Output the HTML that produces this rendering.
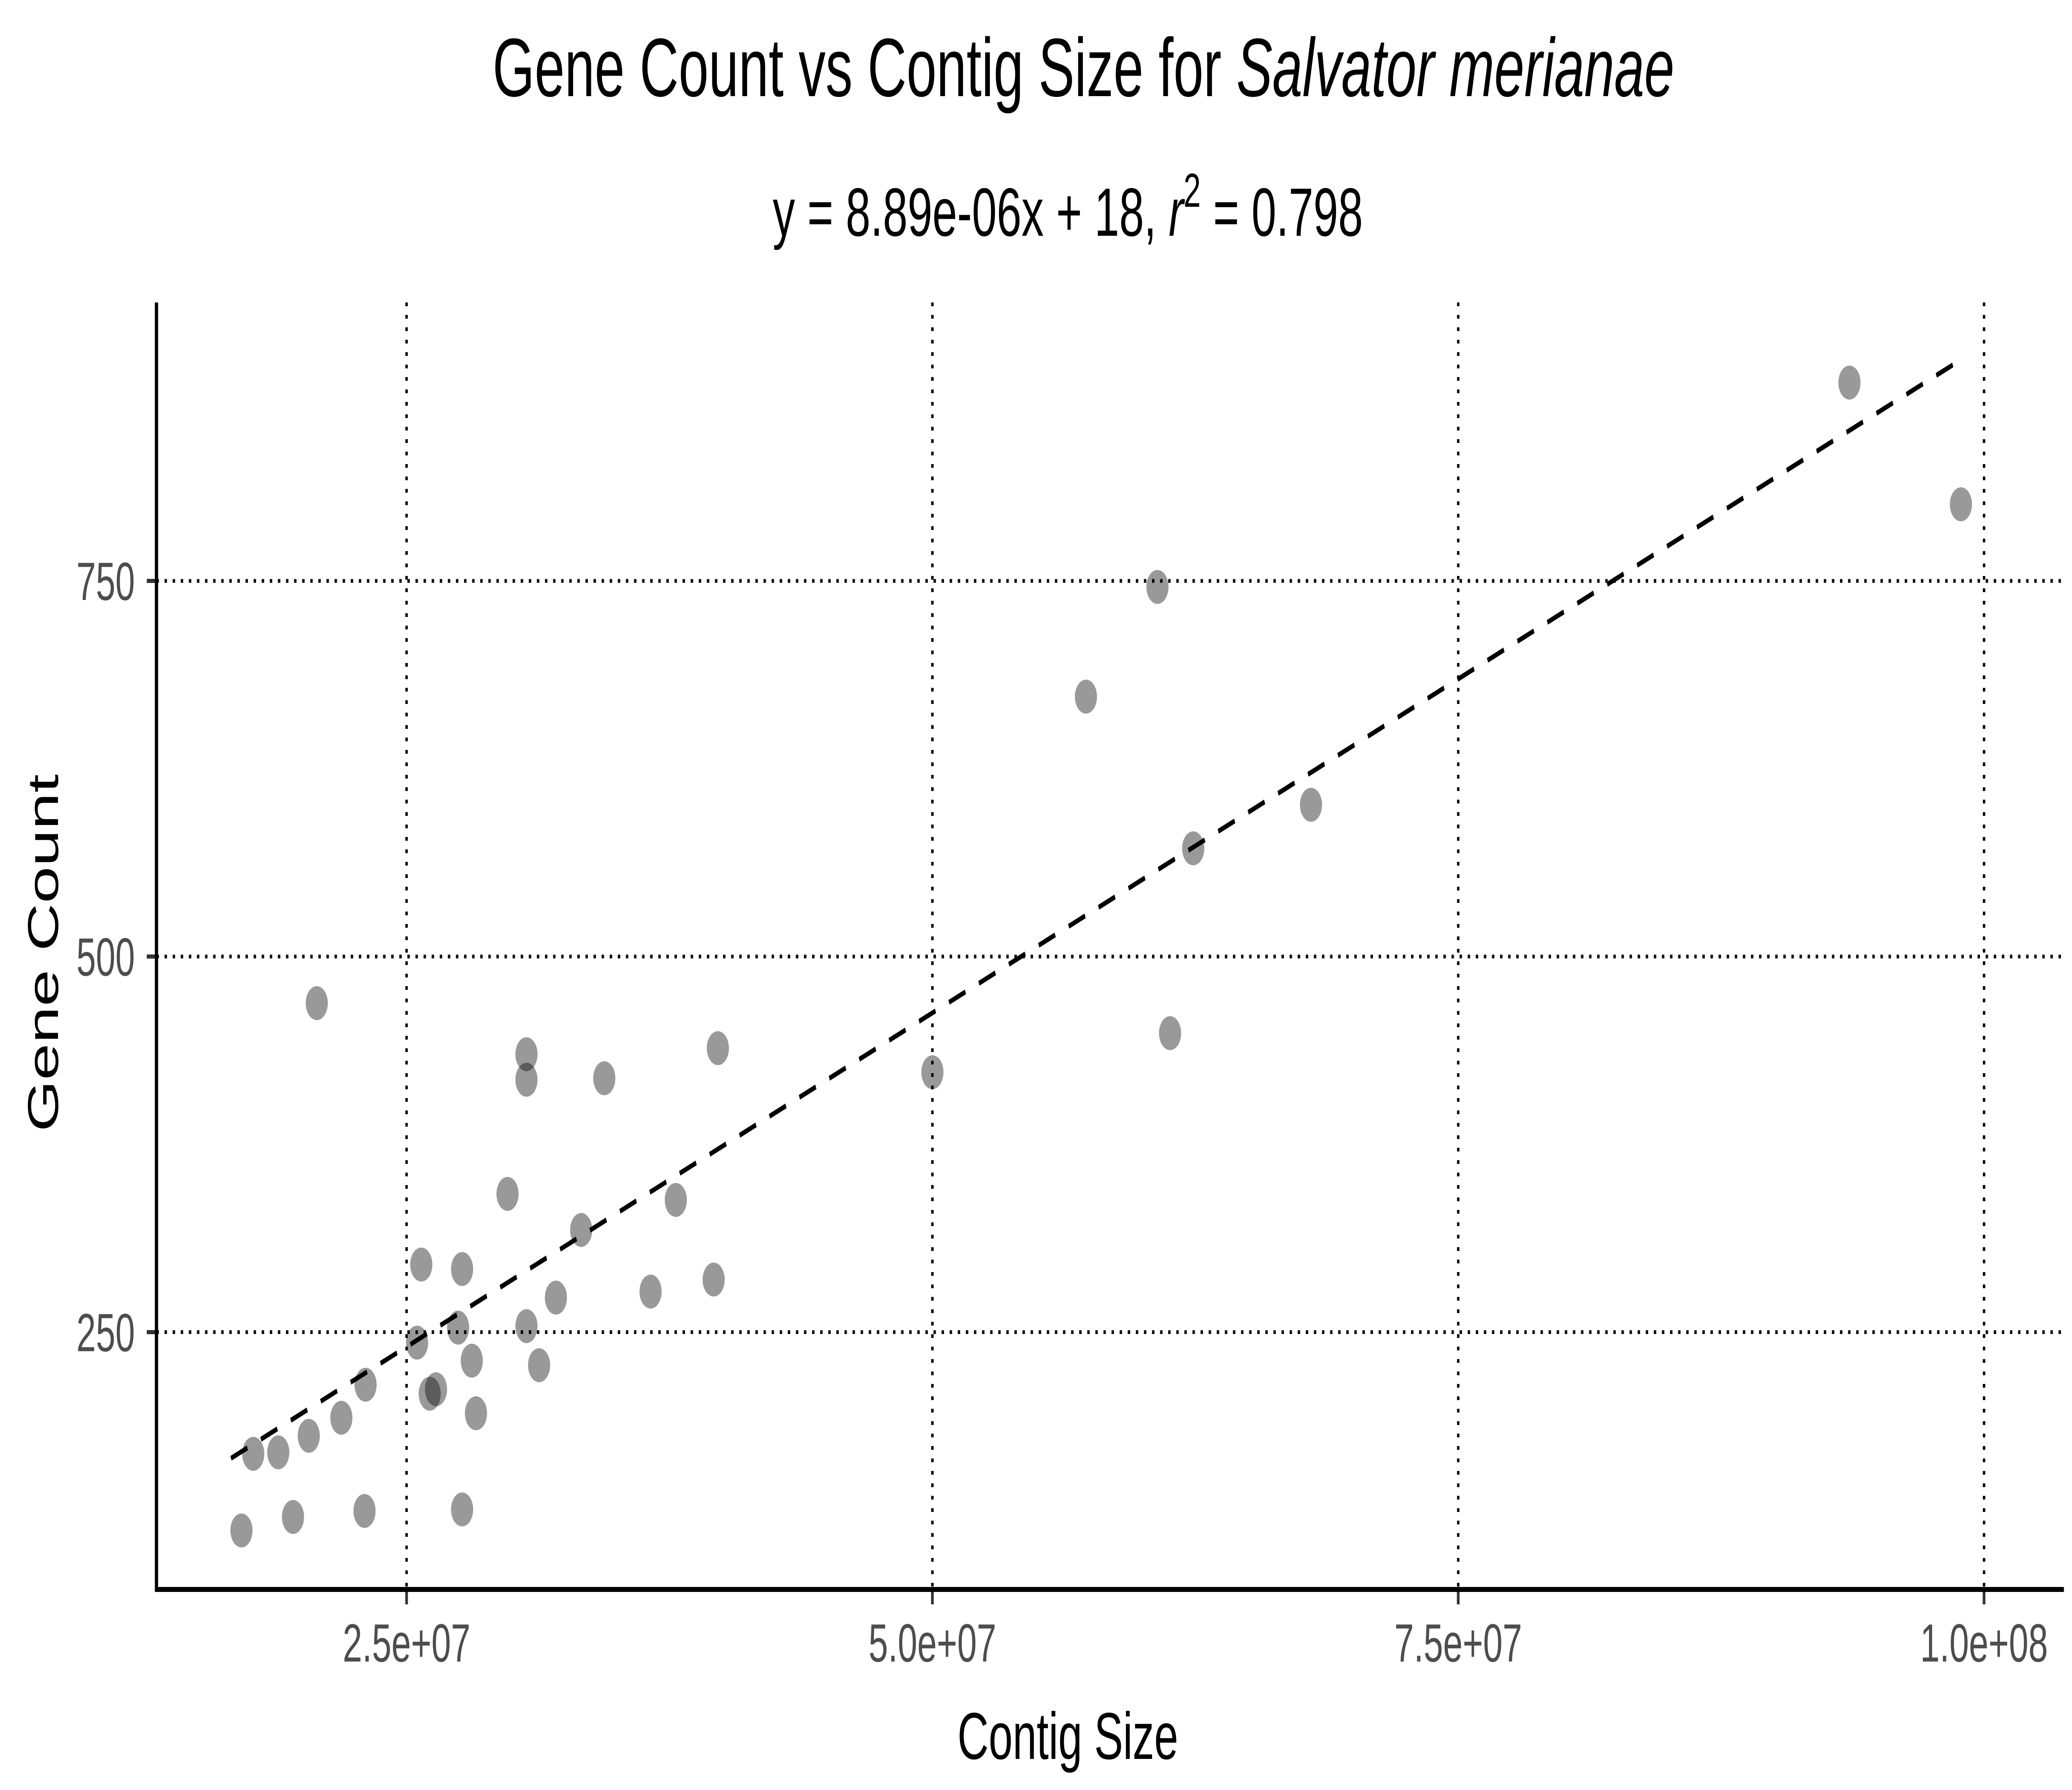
<!DOCTYPE html>
<html><head><meta charset="utf-8"><style>
html,body{margin:0;padding:0;background:#fff;width:100%;height:100%;overflow:hidden}
svg{display:block;width:100vw;height:100vh}
text{font-family:"Liberation Sans",Arial,sans-serif}
</style></head><body>
<svg id="chart" viewBox="0 0 7680 4320" preserveAspectRatio="none" xmlns="http://www.w3.org/2000/svg">
<rect width="7680" height="4320" fill="#fff"/>
<text x="4016" y="232" font-size="200" text-anchor="middle">Gene Count vs Contig Size for <tspan font-style="italic">Salvator merianae</tspan></text>
<text x="3958" y="569" font-size="165" text-anchor="middle">y = 8.89e-06x + 18,  <tspan font-style="italic">r</tspan><tspan dy="-70" font-size="115">2</tspan><tspan dy="70"> = 0.798</tspan></text>
<g id="grid"></g>
<g id="axes"></g>
<g id="points"></g>
<g id="fit"></g>
<text x="3958" y="4245" font-size="160" text-anchor="middle">Contig Size</text>
<text transform="translate(215,2300) rotate(-90)" font-size="160" text-anchor="middle">Gene Count</text>
</svg>
<script>
const xValues = [1.715e7,1.771e7,1.89e7,1.96e7,2.035e7,2.073e7,2.19e7,2.305e7,2.30e7,2.55e7,2.57e7,2.61e7,2.64e7,2.745e7,2.764e7,2.764e7,2.81e7,2.83e7,2.98e7,3.07e7,3.07e7,3.07e7,3.13e7,3.21e7,3.33e7,3.44e7,3.66e7,3.78e7,3.96e7,3.98e7,5.0e7,5.73e7,6.07e7,6.13e7,6.24e7,6.8e7,9.36e7,9.89e7];
const yValues = [118,169,170,127,181,469,193,215,131,243,295,209,212,253,292,132,231,196,342,435,418,254,228,273,318,419,277,338,285,439,423,673,746,449,572,601,882,801];
const xTicks = [2.5e7,5e7,7.5e7,1e8];
const xTickLabels = ["2.5e+07","5.0e+07","7.5e+07","1.0e+08"];
const yTicks = [250,500,750];
const yTickLabels = ["250","500","750"];
const slope = 8.89e-6, intercept = 18;
const fitRange = [1.665e7, 9.9e7];

const NS="http://www.w3.org/2000/svg";
const sx = v => 1507 + (v-2.5e7)/2.5e7*1949;
const sy = v => 4121.5 - v*3.626;
const L=580, R=7650, T=730, B=3836;
function mk(tag,attrs,parent){const e=document.createElementNS(NS,tag);for(const k in attrs)e.setAttribute(k,attrs[k]);parent.appendChild(e);return e;}
const grid=document.getElementById('grid'), axes=document.getElementById('axes'), pts=document.getElementById('points'), fit=document.getElementById('fit');
xTicks.forEach((t,i)=>{
  const x=sx(t);
  const g=mk('line',{x1:x,x2:x,y1:T,y2:B,stroke:'#000','stroke-width':9,'stroke-dasharray':'9 21'},grid);
  
  
  const tk=mk('line',{x1:x,x2:x,y1:B,y2:B+36,stroke:'#333','stroke-width':10},axes);
  
  
  const lb=mk('text',{x:x,y:4010,'font-size':130,'text-anchor':'middle',fill:'#4d4d4d'},axes);
  lb.textContent=xTickLabels[i];
  
  
});
yTicks.forEach((t,i)=>{
  const y=sy(t);
  const g=mk('line',{x1:L,x2:R,y1:y,y2:y,stroke:'#000','stroke-width':9,'stroke-dasharray':'9 21'},grid);
  
  
  const tk=mk('line',{x1:L-36,x2:L,y1:y,y2:y,stroke:'#333','stroke-width':10},axes);
  
  
  const lb=mk('text',{x:500,y:y+46,'font-size':130,'text-anchor':'end',fill:'#4d4d4d'},axes);
  lb.textContent=yTickLabels[i];
  
  
});
const ax=mk('path',{d:`M${L},${T} V${B} H${R}`,fill:'none',stroke:'#000','stroke-width':12},axes);


xValues.forEach((xv,i)=>{
  const c=mk('circle',{cx:sx(xv),cy:sy(yValues[i]),r:41,fill:'#000','fill-opacity':0.4},pts);
  
  
});
const fl=mk('line',{x1:sx(fitRange[0]),y1:sy(slope*fitRange[0]+intercept),x2:sx(fitRange[1]),y2:sy(slope*fitRange[1]+intercept),stroke:'#000','stroke-width':12,'stroke-dasharray':'66 54'},fit);


</script>
</body></html>
